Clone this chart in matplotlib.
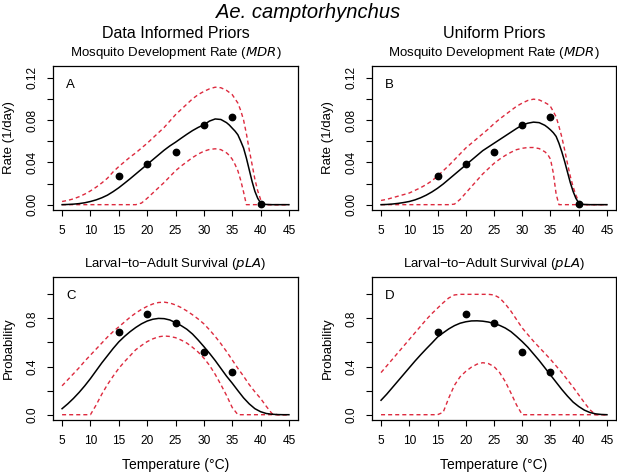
import matplotlib.pyplot as plt

plt.rcParams['font.family'] = ['Liberation Sans', 'DejaVu Sans']

# observed data
obs_temp_mdr = [15, 20, 25, 30, 35, 40]
obs_mdr = [0.027, 0.038, 0.0495, 0.0752, 0.0825, 0.001]
obs_temp_pla = [15, 20, 25, 30, 35]
obs_pla = [0.687, 0.838, 0.759, 0.524, 0.356]

# temperatures the MDR curves were read at
mdr_temp = [5, 6, 7, 8, 9, 10, 11, 12, 13, 14, 15, 16, 17, 18, 19, 20,
            21, 22, 23, 24, 25, 26, 27, 28, 29, 30, 31, 32, 33, 34,
            34.5, 35, 35.5, 36, 36.5, 37, 37.5, 38, 38.5, 39, 39.5, 40,
            40.5, 41, 42, 43, 44, 45]

# panel A (data informed priors)
mdr_inf_mean = [0.0, 0.0002, 0.0005, 0.001, 0.0018, 0.003, 0.0045, 0.0065,
                0.009, 0.0123, 0.016, 0.0202, 0.0245, 0.029, 0.0335, 0.038,
                0.0425, 0.047, 0.0515, 0.0555, 0.059, 0.0628, 0.0665, 0.07,
                0.073, 0.0755, 0.079, 0.081, 0.0805, 0.0775,
                0.0752, 0.0723, 0.0695, 0.066, 0.06, 0.0535, 0.044, 0.033,
                0.022, 0.0126, 0.006, 0.0016, 0.0005, 0.0002, 0, 0, 0, 0]
mdr_inf_upper = [0.003, 0.004, 0.0055, 0.0075, 0.01, 0.013, 0.0165, 0.0205,
                 0.025, 0.031, 0.036, 0.0405, 0.045, 0.049, 0.0535, 0.058,
                 0.063, 0.068, 0.073, 0.079, 0.085, 0.09, 0.095, 0.1,
                 0.104, 0.107, 0.1095, 0.111, 0.1105, 0.108,
                 0.106, 0.104, 0.1, 0.096, 0.089, 0.08, 0.067, 0.052,
                 0.038, 0.024, 0.013, 0.005, 0, 0, 0, 0, 0, 0]
mdr_inf_lower = [0, 0, 0, 0, 0, 0, 0, 0, 0, 0, 0, 0, 0, 0, 0.0015, 0.006,
                 0.011, 0.016, 0.021, 0.0265, 0.032, 0.0365, 0.0405, 0.0445,
                 0.0478, 0.0505, 0.0522, 0.0528, 0.052, 0.049,
                 0.0465, 0.043, 0.038, 0.032, 0.023, 0.012, 0, 0,
                 0, 0, 0, 0, 0, 0, 0, 0, 0, 0]

# panel B (uniform priors)
mdr_uni_mean = [0.0, 0.0002, 0.0006, 0.0012, 0.002, 0.003, 0.0045, 0.0065,
                0.009, 0.012, 0.0155, 0.0195, 0.024, 0.0285, 0.033, 0.0375,
                0.042, 0.0465, 0.051, 0.0545, 0.058, 0.0615, 0.065, 0.0685,
                0.072, 0.0752, 0.077, 0.078, 0.0775, 0.075,
                0.073, 0.0707, 0.068, 0.0645, 0.058, 0.05, 0.041, 0.031,
                0.021, 0.0126, 0.006, 0.0016, 0.0005, 0.0002, 0, 0, 0, 0]
mdr_uni_upper = [0.004, 0.005, 0.0065, 0.008, 0.0095, 0.011, 0.0135, 0.016,
                 0.019, 0.0225, 0.027, 0.032, 0.037, 0.0425, 0.048, 0.0535,
                 0.058, 0.0625, 0.067, 0.0715, 0.0765, 0.081, 0.085, 0.089,
                 0.093, 0.096, 0.0985, 0.0997, 0.099, 0.0965,
                 0.095, 0.0928, 0.088, 0.083, 0.074, 0.064, 0.052, 0.039,
                 0.027, 0.017, 0.009, 0.003, 0, 0, 0, 0, 0, 0]
mdr_uni_lower = [0, 0, 0, 0, 0, 0, 0, 0, 0, 0, 0, 0, 0, 0.0005, 0.005, 0.011,
                 0.017, 0.023, 0.029, 0.034, 0.039, 0.043, 0.0465, 0.0495,
                 0.052, 0.0533, 0.054, 0.054, 0.053, 0.05,
                 0.0475, 0.043, 0.03, 0.01, 0, 0, 0, 0,
                 0, 0, 0, 0, 0, 0, 0, 0, 0, 0]

# temperatures the pLA curves were read at
pla_temp = list(range(5, 46))

# panel C (data informed priors)
pla_inf_mean = [0.05, 0.09, 0.135, 0.185, 0.24, 0.3, 0.365, 0.43, 0.49, 0.55,
                0.605, 0.65, 0.69, 0.725, 0.755, 0.778, 0.793, 0.8, 0.798,
                0.787, 0.765, 0.74, 0.71, 0.67, 0.62, 0.566, 0.51, 0.45,
                0.385, 0.32, 0.262, 0.2, 0.14, 0.09, 0.05, 0.025, 0.01,
                0.004, 0.001, 0, 0]
pla_inf_upper = [0.24, 0.29, 0.34, 0.39, 0.445, 0.495, 0.545, 0.595, 0.645,
                 0.69, 0.73, 0.77, 0.81, 0.845, 0.875, 0.9, 0.92, 0.932,
                 0.935, 0.928, 0.912, 0.89, 0.862, 0.83, 0.795, 0.755, 0.705,
                 0.65, 0.59, 0.525, 0.455, 0.385, 0.32, 0.25, 0.19, 0.135,
                 0.07, 0.01, 0, 0, 0]
pla_inf_lower = [0, 0, 0, 0, 0, 0, 0.08, 0.17, 0.25, 0.32, 0.385, 0.44, 0.49,
                 0.54, 0.575, 0.607, 0.63, 0.647, 0.654, 0.65, 0.64, 0.62,
                 0.595, 0.56, 0.52, 0.47, 0.41, 0.335, 0.25, 0.16, 0.06, 0,
                 0, 0, 0, 0, 0, 0, 0, 0, 0]

# panel D (uniform priors)
pla_uni_mean = [0.12, 0.17, 0.225, 0.28, 0.335, 0.39, 0.445, 0.497, 0.547,
                0.595, 0.645, 0.68, 0.713, 0.74, 0.76, 0.772, 0.779, 0.78,
                0.777, 0.77, 0.758, 0.742, 0.72, 0.69, 0.65, 0.607, 0.56,
                0.505, 0.45, 0.39, 0.33, 0.27, 0.21, 0.155, 0.105, 0.068,
                0.038, 0.018, 0.007, 0.002, 0]
pla_uni_upper = [0.35, 0.405, 0.46, 0.515, 0.57, 0.625, 0.68, 0.735, 0.79,
                 0.84, 0.885, 0.93, 0.97, 0.995, 1.0, 1.0, 1.0, 1.0, 1.0,
                 1.0, 0.995, 0.97, 0.92, 0.86, 0.79, 0.72, 0.665, 0.61, 0.56,
                 0.51, 0.46, 0.405, 0.35, 0.29, 0.23, 0.165, 0.1, 0.04, 0,
                 0, 0]
pla_uni_lower = [0, 0, 0, 0, 0, 0, 0, 0, 0, 0, 0, 0.02, 0.14, 0.245, 0.315,
                 0.36, 0.395, 0.42, 0.432, 0.425, 0.4, 0.35, 0.275, 0.18,
                 0.08, 0, 0, 0, 0, 0, 0, 0, 0, 0, 0, 0, 0, 0, 0, 0, 0]

RED = '#dd2a3e'
W, H = 617, 473


def make_axes(fig, left, top, right, bottom):
    return fig.add_axes([left / W, 1 - bottom / H, (right - left) / W,
                         (bottom - top) / H])


def draw_panel(ax, temp, mean, upper, lower, obs_t, obs_v, letter, kind):
    ax.plot(temp, upper, color=RED, lw=1.0, dashes=(2.9, 2.2))
    ax.plot(temp, lower, color=RED, lw=1.0, dashes=(2.9, 2.2))
    ax.plot(temp, mean, color='black', lw=1.1)
    ax.plot(obs_t, obs_v, 'o', color='black', ms=4.6)

    ax.set_xlim(3.4, 46.6)
    ax.set_xticks(range(5, 50, 5))
    if kind == 'mdr':
        ax.set_ylim(-0.00504, 0.13104)
        ax.set_yticks([0, 0.02, 0.04, 0.06, 0.08, 0.10, 0.12])
        ax.set_yticklabels(['0.00', '', '0.04', '', '0.08', '', '0.12'])
        ax.set_ylabel('Rate (1/day)', fontsize=9.5, labelpad=8)
    else:
        ax.set_ylim(-0.044, 1.144)
        ax.set_yticks([0, 0.2, 0.4, 0.6, 0.8, 1.0])
        ax.set_yticklabels(['0.0', '', '0.4', '', '0.8', ''])
        ax.set_ylabel('Probability', fontsize=9.5, labelpad=8)
        ax.set_xlabel('Temperature (\u00b0C)', fontsize=10, labelpad=8)
    for lab in ax.get_yticklabels():
        lab.set_rotation(90)
        lab.set_va('center')
    ax.tick_params(labelsize=8.6, length=4, width=0.8, pad=6.5)
    for s in ax.spines.values():
        s.set_linewidth(0.9)
    ax.text(0.053, 0.868, letter, transform=ax.transAxes, fontsize=9.5,
            va='center', ha='left')


fig = plt.figure(figsize=(W / 100, H / 100), dpi=100)

ax_a = make_axes(fig, 53, 66, 298, 210)
ax_b = make_axes(fig, 372, 66, 616, 210)
ax_c = make_axes(fig, 53, 277, 298, 420)
ax_d = make_axes(fig, 372, 277, 616, 420)

draw_panel(ax_a, mdr_temp, mdr_inf_mean, mdr_inf_upper, mdr_inf_lower,
           obs_temp_mdr, obs_mdr, 'A', 'mdr')
draw_panel(ax_b, mdr_temp, mdr_uni_mean, mdr_uni_upper, mdr_uni_lower,
           obs_temp_mdr, obs_mdr, 'B', 'mdr')
draw_panel(ax_c, pla_temp, pla_inf_mean, pla_inf_upper, pla_inf_lower,
           obs_temp_pla, obs_pla, 'C', 'pla')
draw_panel(ax_d, pla_temp, pla_uni_mean, pla_uni_upper, pla_uni_lower,
           obs_temp_pla, obs_pla, 'D', 'pla')

fig.text(308 / W, 1 - 12 / H, 'Ae. camptorhynchus', fontsize=14.5,
         style='italic', ha='center', va='center')
for x, head in [(175.5, 'Data Informed Priors'), (494, 'Uniform Priors')]:
    fig.text(x / W, 1 - 33 / H, head, fontsize=11.5, ha='center',
             va='center')
    fig.text(x / W, 1 - 53 / H,
             'Mosquito Development Rate ($\\mathit{MDR}$)',
             fontsize=9.5, ha='center', va='center')
    fig.text(x / W, 1 - 264 / H,
             'Larval\u2212to\u2212Adult Survival ($\\mathit{pLA}$)',
             fontsize=9.5, ha='center', va='center')

fig.savefig('out.png', dpi=100)
